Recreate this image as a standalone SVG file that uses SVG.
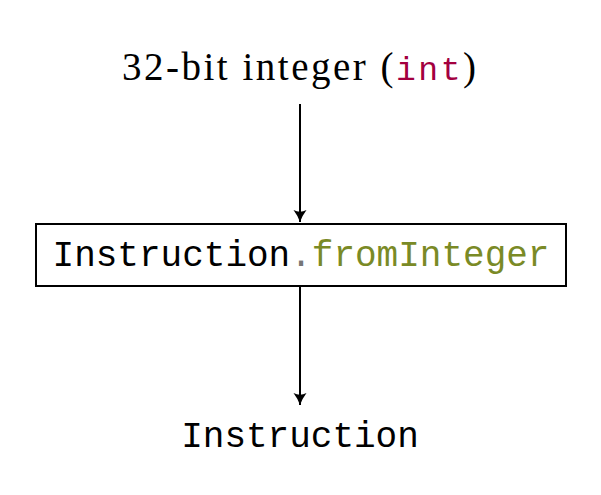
<svg xmlns="http://www.w3.org/2000/svg" width="601" height="495" viewBox="0 0 601 495">
<style>
.serif{font-family:"Liberation Serif","DejaVu Serif",serif;font-size:39px;fill:#000}
.mono{font-family:"Liberation Mono","DejaVu Sans Mono",monospace;font-size:36px;fill:#000}
.edge{stroke:#000;stroke-width:2;fill:none}
</style>
<defs>
<marker id="ah" markerWidth="14" markerHeight="16" refX="12" refY="8" orient="auto" markerUnits="userSpaceOnUse">
<path d="M0,1.5 Q6,6 12,8 Q6,10 0,14.5 Q3.5,8 0,1.5 Z" fill="#000"/>
</marker>
</defs>
<rect width="601" height="495" fill="#fff"/>
<g id="input">
<text class="serif" x="299" y="80" text-anchor="middle" textLength="354" lengthAdjust="spacing">32-bit integer (<tspan style="font-family:'Liberation Mono','DejaVu Sans Mono',monospace;font-size:33px;fill:#a3003f">int</tspan>)</text>
</g>
<g id="fromInteger">
<rect x="36" y="224" width="530" height="62" fill="#fff" stroke="#000" stroke-width="2"/>
<text class="mono" x="301" y="266" text-anchor="middle">Instruction<tspan style="fill:#777">.</tspan><tspan style="fill:#7a8a26">fromInteger</tspan></text>
</g>
<g id="output">
<text class="mono" x="300" y="447" text-anchor="middle">Instruction</text>
</g>
<g id="connectors">
<line class="edge" x1="300" y1="104" x2="300" y2="222" marker-end="url(#ah)"/>
<line class="edge" x1="300" y1="286" x2="300" y2="405" marker-end="url(#ah)"/>
</g>
</svg>
